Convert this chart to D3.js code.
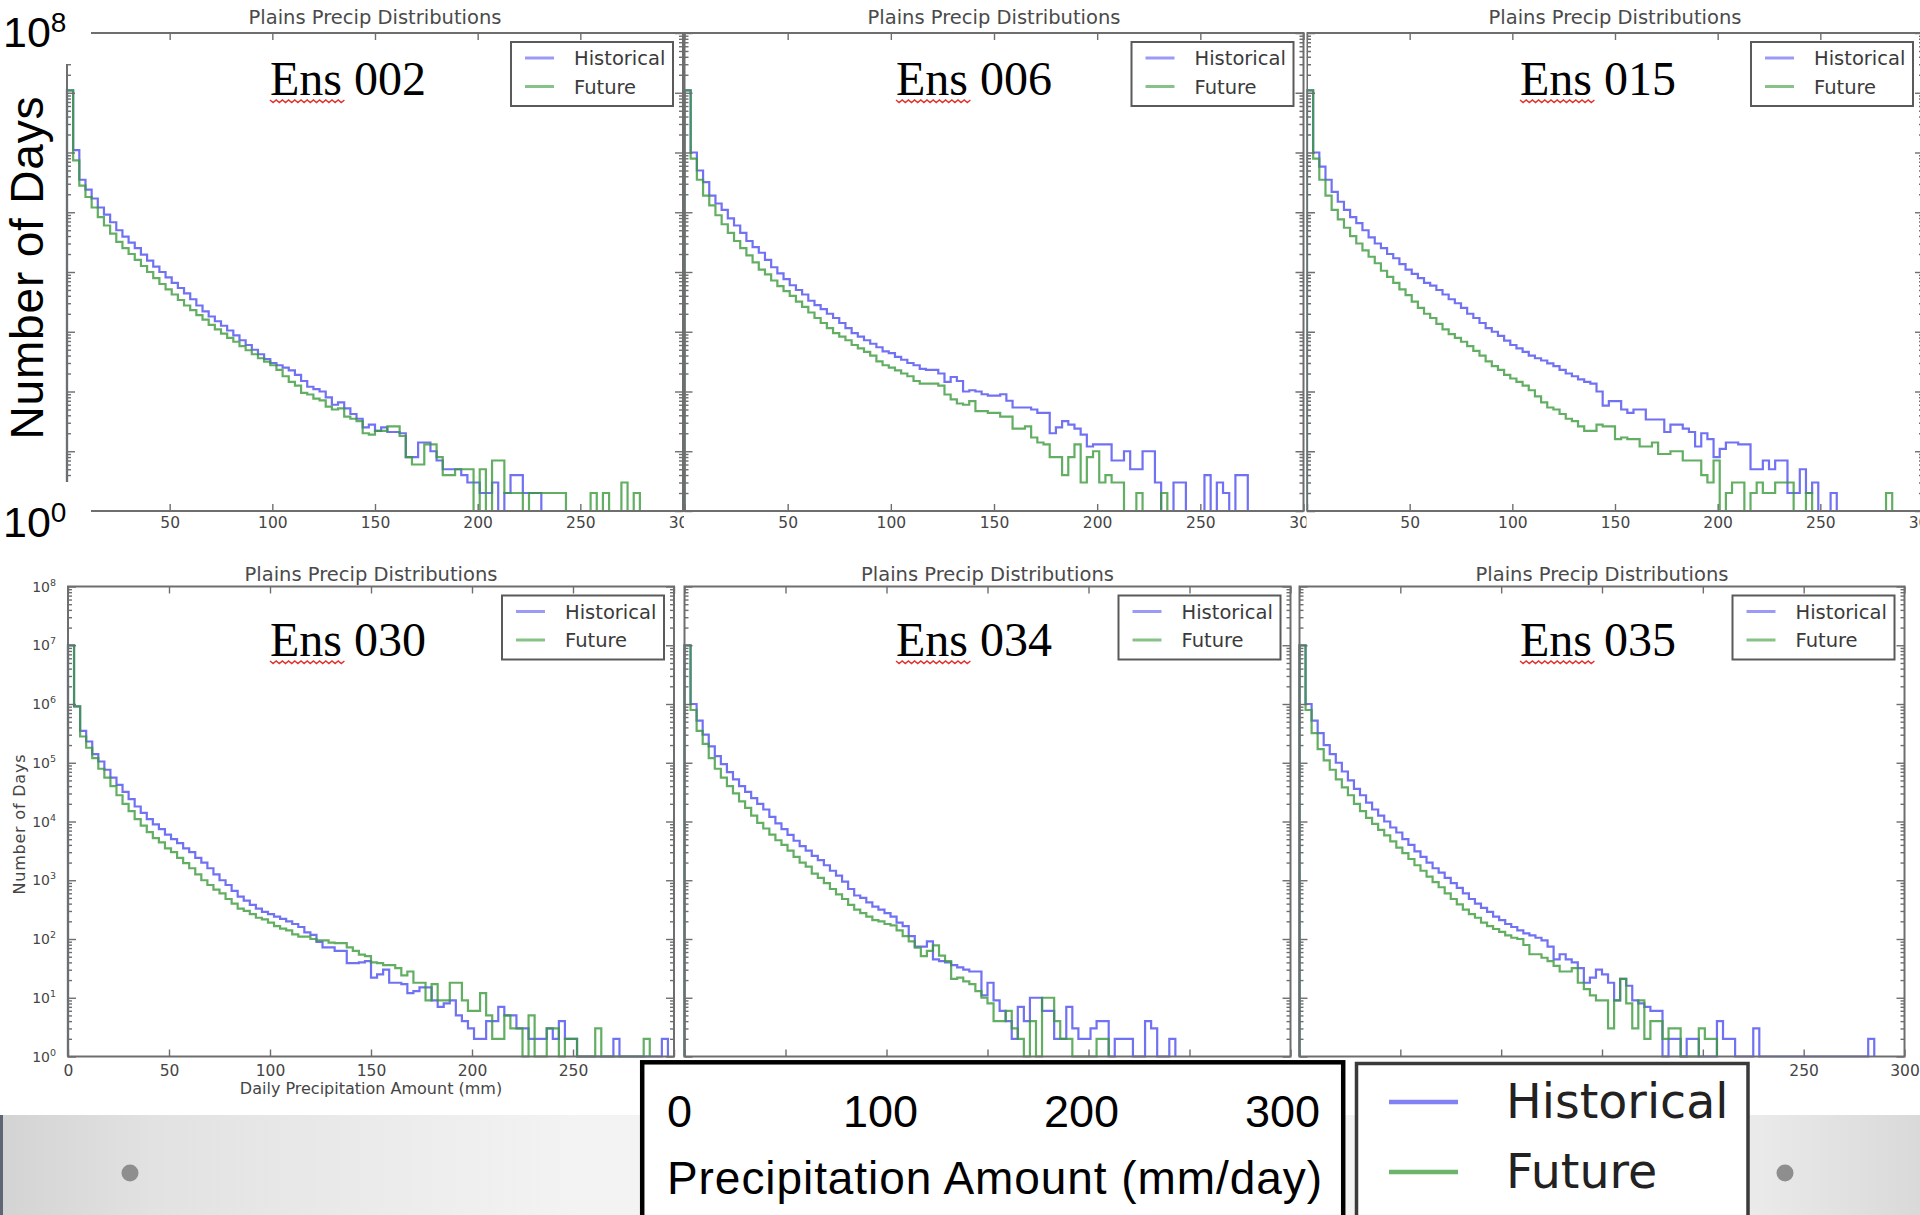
<!DOCTYPE html>
<html><head><meta charset="utf-8">
<script src="https://cdn.jsdelivr.net/npm/d3@7"></script>
<style>body{margin:0;background:#fff}svg{display:block}</style>
</head><body>
<svg id="chart" width="1920" height="1215"></svg>
<script>
// ---------------- DATA ----------------
const binWidth = 3; // mm per histogram bin
const ensembles = ["Ens 002", "Ens 006", "Ens 015", "Ens 030", "Ens 034", "Ens 035"];
const seriesNames = ["Historical", "Future"];
const panelTitle = "Plains Precip Distributions";
const xAxisTitle = "Daily Precipitation Amount (mm)";
const yAxisTitle = "Number of Days";
const xTickValues = [0, 50, 100, 150, 200, 250, 300];
const yTickExponents = [0, 1, 2, 3, 4, 5, 6, 7, 8];
const overlayTickLabels = ["0", "100", "200", "300"];
const overlayAxisTitle = "Precipitation Amount (mm/day)";

// counts per 3 mm bin (starting at 0 mm); missing bins = 0
const hist002 = [1.1e7,1.1e6,3.5e5,2.4e5,1.7e5,1.2e5,9.1e4,6.8e4,5.0e4,3.9e4,
  3.1e4,2.5e4,1.95e4,1.55e4,1.23e4,1.0e4,8100,6600,5400,4400,
  3500,2750,2200,1800,1500,1260,1050,870,720,600,
  500,420,350,300,275,250,225,190,150,120,
  110,100,80,60,66,52,42,35,25,28,
  22,25,21,21,20,8,8,14,14,10,
  7,5,5,5,4,3,3,2,2,3,
  1,2,4,4,2,2,2];
const fut002 = [1.1e7,7.4e5,2.8e5,1.8e5,1.2e5,8.3e4,6.0e4,4.4e4,3.2e4,2.5e4,
  2.0e4,1.6e4,1.26e4,1.0e4,7900,6300,5100,4200,3400,2750,
  2300,1900,1600,1300,1100,930,790,680,575,490,
  420,360,316,275,230,180,145,125,95,89,
  76,71,56,50,52,38,35,32,20,19,
  22,22,26,26,18,8,6,6,13,13,
  8,4,4,5,5,5,0,5,1,7,
  7,2,2,2,1,2,2,2,2,2,
  2,0,0,0,0,2,0,2,0,0,
  3,0,2];
const hist006 = [1.1e7,1.0e6,5.0e5,3.2e5,1.9e5,1.4e5,1.1e5,7.9e4,6.0e4,4.5e4,
  3.3e4,2.6e4,2.1e4,1.6e4,1.2e4,9500,7600,6000,5000,4200,
  3300,2800,2400,2000,1700,1400,1150,950,830,720,
  630,550,470,440,380,340,300,275,240,230,
  230,200,145,175,150,100,105,100,90,85,
  85,90,70,54,54,54,50,44,44,20,
  25,32,28,24,19,12,13,13,13,7,
  7,10,5,5,10,10,3,0,0,3,
  3,0,0,0,4,0,3,2,0,4,
  4];
const fut006 = [1.1e7,7.9e5,3.5e5,1.9e5,1.3e5,8.9e4,6.3e4,4.5e4,3.3e4,2.5e4,
  1.9e4,1.45e4,1.1e4,9100,7200,5800,4800,4000,3200,2600,
  2100,1700,1400,1150,950,830,720,600,525,460,
  400,320,275,250,225,200,180,150,135,135,
  135,125,89,74,63,60,69,47,47,44,
  44,38,38,24,24,26,17,14,13,8,
  8,4,8,13,3,8,10,3,4,3,
  3,0,0,2,0,0,0,2];
const hist015 = [1.1e7,1.0e6,5.8e5,3.5e5,2.2e5,1.5e5,1.1e5,8.3e4,6.6e4,5.0e4,
  3.8e4,3.0e4,2.5e4,2.0e4,1.7e4,1.35e4,1.1e4,9300,7900,6600,
  5900,5000,4200,3500,3000,2500,2000,1700,1400,1150,
  1000,850,710,600,525,460,400,360,330,295,
  265,230,200,180,160,145,135,100,58,69,
  69,50,44,50,50,34,34,34,21,28,
  28,24,21,12,20,16,8,11,14,14,
  13,13,5,5,7,5,7,7,2,2,
  5,2,3,0,0,2];
const fut015 = [1.1e7,7.9e5,3.5e5,1.9e5,1.1e5,7.6e4,5.5e4,4.0e4,3.0e4,2.3e4,
  1.8e4,1.4e4,1.05e4,8300,6600,5100,4100,3200,2500,2000,
  1700,1350,1100,910,790,680,575,480,400,320,
  265,230,190,165,145,125,105,83,66,54,
  50,42,35,32,26,22,22,28,26,26,
  16,17,16,16,12,12,14,9,9,10,
  10,7,7,7,4,3,7,0,2,3,
  3,0,2,3,2,2,3,3,3,0,
  0,2,0,0,0,0,0,0,0,0,
  0,0,0,0,2];
const hist030 = [1.0e7,9.1e5,3.5e5,2.3e5,1.4e5,1.05e5,7.6e4,5.6e4,4.2e4,3.2e4,
  2.4e4,1.8e4,1.4e4,1.1e4,8900,7400,6000,5000,4300,3500,
  3000,2400,2000,1600,1260,1000,830,660,525,450,
  380,330,290,265,240,220,200,180,160,130,
  118,89,72,72,63,63,39,39,40,42,
  22,25,30,18,18,17,12,13,15,15,
  9,7,8,9,5,4,3,2,2,4,
  4,7,5,5,3,3,2,2,2,3,
  2,4,2,2,0,0,0,0,0,0,
  2,0,0,0,0,0,0,0,2];
const fut030 = [1.0e7,9.1e5,2.8e5,1.8e5,1.2e5,7.9e4,5.6e4,4.0e4,2.8e4,2.0e4,
  1.5e4,1.1e4,8500,6600,5200,4400,3500,3000,2400,1950,
  1600,1260,1000,830,690,600,480,400,330,300,
  265,230,215,190,165,150,140,120,110,110,
  100,95,95,87,85,85,72,63,54,51,
  40,39,36,36,32,24,28,18,18,9,
  17,9,9,18,18,9,6,6,12,5,
  2,2,5,3,3,0,5,0,0,3,
  3,0,2,2,0,0,0,3,0,0,
  0,0,0,0,0,2];
const hist034 = [1.0e7,1.0e6,5.2e5,3.0e5,1.9e5,1.3e5,9.5e4,6.9e4,5.2e4,4.0e4,
  3.2e4,2.5e4,2.0e4,1.6e4,1.2e4,9300,7400,5900,4700,3800,
  3200,2600,2200,1800,1450,1200,950,710,550,500,
  420,355,315,275,240,190,165,112,74,74,
  91,45,42,40,36,33,30,28,28,11,
  18,9,6,4,2,7,4,10,10,6,
  6,2,2,7,3,2,2,3,4,4,
  0,2,2,2,0,0,4,3,0,0,
  2];
const fut034 = [1.0e7,7.9e5,3.5e5,2.1e5,1.2e5,7.9e4,5.6e4,4.0e4,3.0e4,2.2e4,
  1.7e4,1.26e4,9500,7600,6000,4800,4000,3200,2500,2000,
  1700,1300,1100,890,710,575,480,380,316,275,
  240,210,200,180,170,140,112,91,71,51,
  63,78,52,42,21,22,19,17,13,10,
  8,4,4,6,3,2,0,4,0,10,
  10,4,2,2,0,0,0,0,2,2];
const hist035 = [1.0e7,1.0e6,5.2e5,3.2e5,2.0e5,1.4e5,1.0e5,7.1e4,5.0e4,3.6e4,
  2.8e4,2.1e4,1.6e4,1.26e4,1.0e4,7900,6500,5000,4000,3100,
  2500,2000,1600,1350,1100,890,740,600,480,400,
  340,290,240,210,180,160,140,125,115,105,
  95,74,45,55,45,40,32,18,22,30,
  25,18,9,21,16,9,8,7,6,6,
  0,2,2,0,2,2,0,0,0,4,
  2,2,0,0,0,3,0,0,0,0,
  0,0,0,0,0,0,0,0,0,0,
  0,0,0,0,2];
const fut035 = [1.0e7,7.9e5,3.2e5,1.7e5,1.1e5,7.6e4,5.2e4,3.8e4,2.8e4,2.0e4,
  1.5e4,1.15e4,9100,7200,5800,4600,3600,2900,2300,1800,
  1450,1150,930,760,600,480,390,316,265,230,
  190,165,148,132,115,105,100,79,55,55,
  48,42,35,28,28,32,18,14,11,9,
  9,3,9,21,8,3,9,2,4,4,
  2,3,3,0,0,0,3,2,2];

const historicalSeries = [hist002, hist006, hist015, hist030, hist034, hist035];
const futureSeries = [fut002, fut006, fut015, fut030, fut034, fut035];

// ---------------- LAYOUT ----------------
const topRow = {t: 33, b: 511, titleY: 24, tickPad: 5.5, labelY: 95, clipT: 0, clipB: 545};
const botRow = {t: 586.5, b: 1056.5, titleY: 581, tickPad: 8.5, labelY: 656, clipT: 545, clipB: 1112};
const layout = [
  Object.assign({l: 67, r: 683, cl: 0, cr: 686, labelX: 270, xl: [50,100,150,200,250,300]}, topRow),
  Object.assign({l: 684.5, r: 1303.5, cl: 684, cr: 1306.5, labelX: 896, xl: [50,100,150,200,250,300]}, topRow),
  Object.assign({l: 1307, r: 1923, cl: 1306.5, cr: 1920, labelX: 1520, xl: [50,100,150,200,250,300]}, topRow),
  Object.assign({l: 68, r: 674, cl: 0, cr: 679, labelX: 270, yLabels: true, xl: [0,50,100,150,200,250]}, botRow),
  Object.assign({l: 684.5, r: 1290.5, cl: 679, cr: 1295, labelX: 896, xl: []}, botRow),
  Object.assign({l: 1299.5, r: 1904.5, cl: 1295, cr: 1920, labelX: 1520, xl: [250,300]}, botRow)
];
const BLUE = "#5858f2", GREEN = "#3b9a3b", FRAME = "#6e6e6e", TXT = "#454545";

const svg = d3.select("#chart");
const defs = svg.append("defs");

function drawPanel(i) {
  const L = layout[i];
  defs.append("clipPath").attr("id", "clip" + i)
    .append("rect").attr("x", L.cl).attr("y", L.clipT)
    .attr("width", L.cr - L.cl).attr("height", L.clipB - L.clipT);
  const g = svg.append("g").attr("clip-path", `url(#clip${i})`);
  g.append("rect").attr("x", L.cl).attr("y", L.clipT)
    .attr("width", L.cr - L.cl).attr("height", L.clipB - L.clipT).attr("fill", "#fff");

  const x = d3.scaleLinear().domain([0, 300]).range([L.l, L.r]);
  const y = d3.scaleLog().domain([1, 1e8]).range([L.b, L.t]);

  // title
  g.append("text").attr("x", (L.l + L.r) / 2).attr("y", L.titleY)
    .attr("text-anchor", "middle").attr("font-family", "DejaVu Sans")
    .attr("font-size", 19.5).attr("fill", "#4a4a4a").text(panelTitle);

  // histograms (step outline)
  const line = d3.line().curve(d3.curveStepAfter)
    .x(d => x(d[0])).y(d => y(Math.max(d[1], 1)));
  function pts(arr) {
    const p = [[0, 1]];
    arr.forEach((c, k) => p.push([k * binWidth, c]));
    p.push([arr.length * binWidth, 1]);
    return p;
  }
  const plot = g.append("g");
  plot.append("path").attr("d", line(pts(historicalSeries[i])))
    .attr("fill", "none").attr("stroke", BLUE).attr("stroke-opacity", 0.85)
    .attr("stroke-width", 2.2).attr("stroke-linejoin", "miter");
  plot.append("path").attr("d", line(pts(futureSeries[i])))
    .attr("fill", "none").attr("stroke", GREEN).attr("stroke-opacity", 0.8)
    .attr("stroke-width", 2.2).attr("stroke-linejoin", "miter");

  // frame
  g.append("rect").attr("x", L.l).attr("y", L.t).attr("width", L.r - L.l)
    .attr("height", L.b - L.t).attr("fill", "none").attr("stroke", FRAME).attr("stroke-width", 2);

  const styleAxis = sel => {
    sel.select(".domain").remove();
    sel.selectAll(".tick line").attr("stroke", FRAME).attr("stroke-width", 1.4);
    sel.selectAll(".tick text").attr("font-family", "DejaVu Sans").attr("font-size", 15.5).attr("fill", TXT);
  };
  const minors = [];
  for (let k = 0; k < 8; k++) for (let m = 2; m <= 9; m++) minors.push(m * Math.pow(10, k));
  const majors = yTickExponents.map(e => Math.pow(10, e));

  g.append("g").attr("transform", `translate(0,${L.b})`)
    .call(d3.axisBottom(x).tickValues(xTickValues).tickSizeInner(-7).tickSizeOuter(0)
      .tickPadding(L.tickPad).tickFormat(d => L.xl.includes(d) ? String(d) : "")).call(styleAxis);
  g.append("g").attr("transform", `translate(0,${L.t})`)
    .call(d3.axisTop(x).tickValues(xTickValues).tickSizeInner(-7).tickSizeOuter(0).tickFormat(() => "")).call(styleAxis);
  [[d3.axisLeft, L.l], [d3.axisRight, L.r]].forEach(([ax, pos]) => {
    g.append("g").attr("transform", `translate(${pos},0)`)
      .call(ax(y).tickValues(majors).tickSizeInner(-8).tickSizeOuter(0).tickFormat(() => "")).call(styleAxis);
    g.append("g").attr("transform", `translate(${pos},0)`)
      .call(ax(y).tickValues(minors).tickSizeInner(-4).tickSizeOuter(0).tickFormat(() => "")).call(styleAxis);
  });
  g.selectAll(".tick text").filter(function() { return this.textContent === ""; }).remove();

  if (L.yLabels) {
    const lab = svg.append("g");
    yTickExponents.forEach(e => {
      const t = lab.append("text").attr("x", L.l - 12).attr("y", y(Math.pow(10, e)) + 5)
        .attr("text-anchor", "end").attr("font-family", "DejaVu Sans").attr("font-size", 14).attr("fill", TXT);
      t.append("tspan").text("10");
      t.append("tspan").attr("dy", -6).attr("font-size", 9.5).text(e);
    });
    lab.append("text").attr("transform", `translate(25,${(L.t + L.b) / 2 + 3}) rotate(-90)`)
      .attr("text-anchor", "middle").attr("font-family", "DejaVu Sans").attr("font-size", 16)
      .attr("textLength", 140).attr("fill", TXT).text(yAxisTitle);
    lab.append("text").attr("x", (L.l + L.r) / 2).attr("y", 1094)
      .attr("text-anchor", "middle").attr("font-family", "DejaVu Sans").attr("font-size", 16)
      .attr("fill", TXT).text(xAxisTitle);
  }

  // legend
  const bx = L.r - 10 - 162, by = L.t + 9;
  const lg = g.append("g");
  lg.append("rect").attr("x", bx).attr("y", by).attr("width", 162).attr("height", 64)
    .attr("fill", "#fff").attr("stroke", "#5a5a5a").attr("stroke-width", 2);
  [[BLUE, 0.6], [GREEN, 0.6]].forEach(([c, o], k) => {
    const yy = by + 16 + k * 28.5;
    lg.append("line").attr("x1", bx + 14).attr("x2", bx + 43).attr("y1", yy).attr("y2", yy)
      .attr("stroke", c).attr("stroke-opacity", o).attr("stroke-width", 3);
    lg.append("text").attr("x", bx + 63).attr("y", yy + 7).attr("font-family", "DejaVu Sans")
      .attr("font-size", 19.5).attr("fill", "#3a3a3a").text(seriesNames[k]);
  });

  // ensemble label with spell-check squiggle
  g.append("text").attr("x", L.labelX).attr("y", L.labelY).attr("font-family", "Liberation Serif")
    .attr("font-size", 48).attr("fill", "#000").text(ensembles[i]);
  let sq = `M${L.labelX},${L.labelY + 5}`;
  for (let k = 1; k <= 24; k++) sq += `L${L.labelX + k * 3.1},${L.labelY + 5 + (k % 2 ? 2.6 : 0)}`;
  g.append("path").attr("d", sq).attr("fill", "none").attr("stroke", "#e2302a").attr("stroke-width", 1.4);
}

for (let i = 0; i < 6; i++) drawPanel(i);

// ---------------- SLIDE OVERLAYS ----------------
svg.append("rect").attr("x", 0).attr("y", 0).attr("width", 91).attr("height", 64).attr("fill", "#fff");
svg.append("rect").attr("x", 0).attr("y", 482).attr("width", 91).attr("height", 62).attr("fill", "#fff");
[[47, "8"], [537, "0"]].forEach(([yy, e]) => {
  const t = svg.append("text").attr("x", 3).attr("y", yy).attr("font-family", "Liberation Sans")
    .attr("font-size", 43).attr("fill", "#000");
  t.append("tspan").text("10");
  t.append("tspan").attr("dy", -15).attr("font-size", 28).text(e);
});
svg.append("text").attr("transform", "translate(43,268) rotate(-90)").attr("text-anchor", "middle")
  .attr("font-family", "Liberation Sans").attr("font-size", 46).attr("textLength", 343)
  .attr("fill", "#000").text(yAxisTitle);

// bottom slide band
const grad = defs.append("linearGradient").attr("id", "band").attr("x1", 0).attr("x2", 1).attr("y1", 0).attr("y2", 0);
[[0, "#d3d3d3"], [0.08, "#e2e2e2"], [0.3, "#f3f3f3"], [0.7, "#f3f3f3"], [0.91, "#ebebeb"], [1, "#d9d9d9"]]
  .forEach(([o, c]) => grad.append("stop").attr("offset", o).attr("stop-color", c));
svg.append("rect").attr("x", 0).attr("y", 1115).attr("width", 1920).attr("height", 100).attr("fill", "url(#band)");
svg.append("rect").attr("x", 0).attr("y", 1115).attr("width", 3).attr("height", 100).attr("fill", "#5f6673");
[130, 1785].forEach(cx => svg.append("circle").attr("cx", cx).attr("cy", 1173).attr("r", 8.5).attr("fill", "#8e8e8e"));

// black box with x-axis overlay
svg.append("rect").attr("x", 642.2).attr("y", 1062.3).attr("width", 701).attr("height", 160)
  .attr("fill", "#fff").attr("stroke", "#000").attr("stroke-width", 4.5);
const ox = d3.scaleLinear().domain([0, 300]).range([679.5, 1282.5]);
overlayTickLabels.forEach(s => svg.append("text").attr("x", ox(+s)).attr("y", 1127)
  .attr("text-anchor", "middle").attr("font-family", "Liberation Sans").attr("font-size", 45)
  .attr("fill", "#000").text(s));
svg.append("text").attr("x", 667).attr("y", 1194).attr("font-family", "Liberation Sans")
  .attr("font-size", 46).attr("textLength", 655).attr("fill", "#000").text(overlayAxisTitle);

// big legend overlay
svg.append("rect").attr("x", 1356.5).attr("y", 1063.5).attr("width", 391.5).attr("height", 160)
  .attr("fill", "#fff").attr("stroke", "#3a3a3a").attr("stroke-width", 3.5);
[[BLUE, 1102, 1118], [GREEN, 1172, 1188]].forEach(([c, ly, ty], k) => {
  svg.append("line").attr("x1", 1389).attr("x2", 1458).attr("y1", ly).attr("y2", ly)
    .attr("stroke", c).attr("stroke-opacity", 0.75).attr("stroke-width", 4.5);
  svg.append("text").attr("x", 1506).attr("y", ty).attr("font-family", "DejaVu Sans")
    .attr("font-size", 47.5).attr("fill", "#222").text(seriesNames[k]);
});
</script>
</body></html>
